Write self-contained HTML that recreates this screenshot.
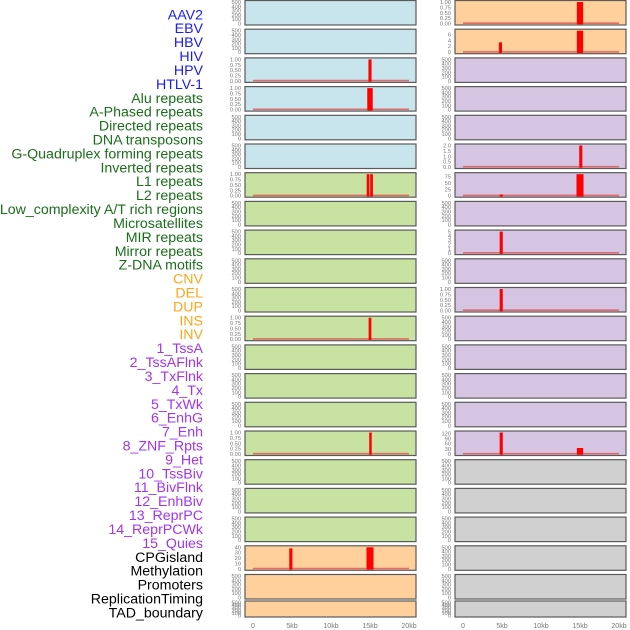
<!DOCTYPE html>
<html><head><meta charset="utf-8">
<style>
html,body{margin:0;padding:0;background:#fff;}
svg{display:block;font-family:"Liberation Sans",sans-serif;}
</style></head>
<body>
<svg id="chart" width="630" height="630" viewBox="0 0 630 630"></svg>
<script>
// ---- data ----
const labelNames = ["AAV2","EBV","HBV","HIV","HPV","HTLV-1","Alu repeats","A-Phased repeats","Directed repeats","DNA transposons","G-Quadruplex forming repeats","Inverted repeats","L1 repeats","L2 repeats","Low_complexity A/T rich regions","Microsatellites","MIR repeats","Mirror repeats","Z-DNA motifs","CNV","DEL","DUP","INS","INV","1_TssA","2_TssAFlnk","3_TxFlnk","4_Tx","5_TxWk","6_EnhG","7_Enh","8_ZNF_Rpts","9_Het","10_TssBiv","11_BivFlnk","12_EnhBiv","13_ReprPC","14_ReprPCWk","15_Quies","CPGisland","Methylation","Promoters","ReplicationTiming","TAD_boundary"];
const labelGroups = ["virus","virus","virus","virus","virus","virus","repeat","repeat","repeat","repeat","repeat","repeat","repeat","repeat","repeat","repeat","repeat","repeat","repeat","sv","sv","sv","sv","sv","chrom","chrom","chrom","chrom","chrom","chrom","chrom","chrom","chrom","chrom","chrom","chrom","chrom","chrom","chrom","other","other","other","other","other"];
const groupColors = {virus:"#1a1aff",repeat:"#1b6e1b",sv:"#ffa51a",chrom:"#a035f0",other:"#000000"};

const leftFill = ["blue","blue","blue","blue","blue","blue","green","green","green","green","green","green","green","green","green","green","green","green","green","orange","orange","orange"];
const rightFill = ["orange","orange","purple","purple","purple","purple","purple","purple","purple","purple","purple","purple","purple","purple","purple","purple","gray","gray","gray","gray","gray","gray"];
const fillColors = {blue:"#c8e4ec",green:"#c8e2a2",orange:"#ffd09c",purple:"#d5c5e2",gray:"#d0d0d0"};

const leftMax  = [null,null,1,1,null,null,1,null,null,null,null,1,null,null,null,1,null,null,null,40,null,null];
const rightMax = [1,7.2,null,null,null,2,85,null,5,null,1,null,null,null,null,125,null,null,null,null,null,null];
const leftTicks  = [null,null,[0,0.25,0.5,0.75,1],[0,0.25,0.5,0.75,1],null,null,[0,0.25,0.5,0.75,1],null,null,null,null,[0,0.25,0.5,0.75,1],null,null,null,[0,0.25,0.5,0.75,1],null,null,null,[0,10,20,30,40],null,null];
const rightTicks = [[0,0.25,0.5,0.75,1],[0,2,4,6],null,null,null,[0,0.5,1,1.5,2],[0,25,50,75],null,[0,1,2,3,4,5],null,[0,0.25,0.5,0.75,1],null,null,null,null,[0,30,60,90,120],null,null,null,null,null,null];
const emptyTicks = [0,100,200,300,400,500];

const leftSpikes = [[],[],[[15.0,1,0.4]],[[15.0,1,0.7]],[],[],[[14.75,1,0.35],[15.2,1,0.35]],[],[],[],[],[[15.0,1,0.35]],[],[],[],[[15.05,1,0.3]],[],[],[],[[4.85,38,0.4],[15.0,40,0.9]],[],[]];
const rightSpikes = [[[15.0,1,0.8]],[[4.8,3.3,0.4],[15.0,7.2,0.8]],[],[],[],[[15.1,2,0.4]],[[4.9,5,0.4],[15.0,85,0.9]],[],[[4.9,5,0.4]],[],[[4.9,1,0.4]],[],[],[],[],[[4.9,125,0.4],[15.0,35,0.8]],[],[],[],[],[],[]];

const xTickVals = [0,5,10,15,20];
const xTickLabels = ["0","5kb","10kb","15kb","20kb"];

// ---- layout ----
const svg = document.getElementById('chart');
const NS = "http://www.w3.org/2000/svg";
function mk(tag, attrs){const e=document.createElementNS(NS,tag);for(const k in attrs)e.setAttribute(k,attrs[k]);return e;}
const colX = [{x0:245,x1:416,ax0:253,tickR:241},{x0:455,x1:626,ax0:463,tickR:451}];
const kbScale = 7.8;
function xPos(col, kb){return colX[col].ax0 + kb*kbScale;}
function rowTop(i){return i<21 ? 0.5 + i*28.7 : 601;}
function rowH(i){return i<21 ? 24.5 : 16;}
function fmt(v, ticks){const dec = ticks.some(t=>t%1!==0); if(!dec) return String(v); const d = ticks.some(t=>Math.round(t*100)%10!==0)?2:1; return v.toFixed(d);}

labelNames.forEach((n,i)=>{
  const t = mk('text',{x:203,y:14.3+i*13.91+5,'text-anchor':'end','font-size':'14.2',fill:groupColors[labelGroups[i]]});
  t.textContent = n;
  
  
  svg.appendChild(t);
});

function drawPanel(col, i, fillKey, maxV, ticks, spikes){
  const c = colX[col], top = rowTop(i), h = rowH(i);
  const g = mk('g',{});
  
  
  const r = mk('rect',{x:c.x0,y:top,width:c.x1-c.x0,height:h,fill:fillColors[fillKey],stroke:'#5a5a5a','stroke-width':1.2});
  
  
  g.appendChild(r);
  const tks = ticks || emptyTicks;
  const mx = maxV || 500;
  const yB = top + h - 1.5, yT = top + 1.5;
  const yS = v => yB - (v/mx)*(yB-yT);
  tks.forEach(v=>{
    const t = mk('text',{x:c.tickR,y:yS(v)+2,'text-anchor':'end','font-size':'5.7',fill:'#777'});
    t.textContent = fmt(v, tks);
    
    
    g.appendChild(t);
  });
  if(maxV){
    const bl = mk('line',{x1:xPos(col,0),x2:xPos(col,20),y1:yB-0.3,y2:yB-0.3,stroke:'#e05050','stroke-width':1.6,'stroke-opacity':0.8});
    
    
    g.appendChild(bl);
  }
  spikes.forEach(s=>{
    const x0 = xPos(col, s[0]-s[2]/2), x1 = xPos(col, s[0]+s[2]/2);
    const b = mk('rect',{x:x0,y:yS(s[1]),width:Math.max(x1-x0,2.5),height:yB-yS(s[1])+0.8,fill:'#ff0000'});
    
    
    g.appendChild(b);
  });
  svg.appendChild(g);
}
for(let i=0;i<22;i++){
  drawPanel(0,i,leftFill[i],leftMax[i],leftTicks[i],leftSpikes[i]);
  drawPanel(1,i,rightFill[i],rightMax[i],rightTicks[i],rightSpikes[i]);
}
[0,1].forEach(col=>{
  xTickVals.forEach((v,k)=>{
    const t = mk('text',{x:xPos(col,v),y:628,'text-anchor':'middle','font-size':'7',fill:'#777'});
    t.textContent = xTickLabels[k];
    
    
    svg.appendChild(t);
  });
});
</script>
</body></html>
